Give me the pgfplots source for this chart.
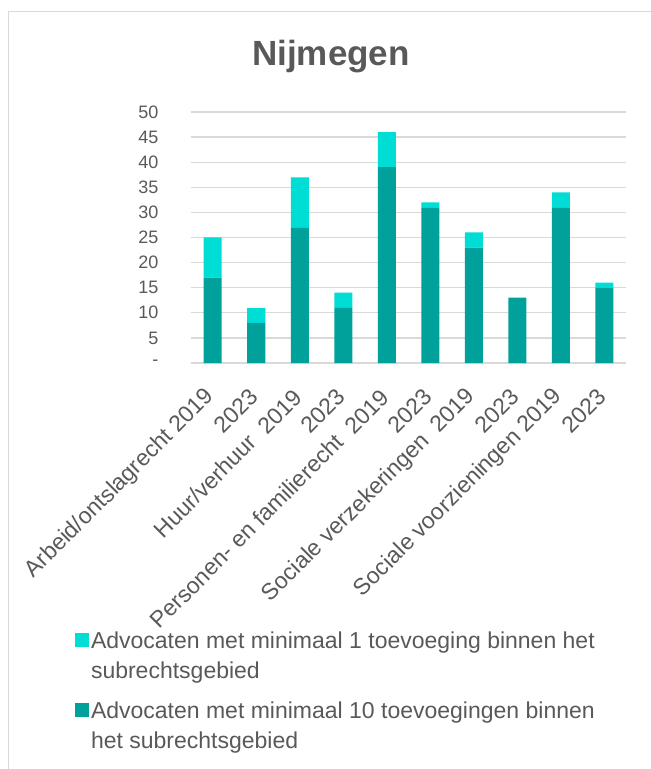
\documentclass[border=0pt]{standalone}
\usepackage{pgfplots}
\pgfplotsset{compat=1.18}
\usepackage{fontspec}
\setmainfont{Liberation Sans}
\definecolor{darkteal}{HTML}{00A19A}
\definecolor{lightteal}{HTML}{00DDD5}
\definecolor{txt}{HTML}{595959}
\definecolor{gridc}{HTML}{D9D9D9}
\begin{document}
\begin{tikzpicture}[x=1pt,y=1pt]
\useasboundingbox (0,0) rectangle (651,769);
\draw[gridc, line width=1pt] (8,0) -- (8,757) -- (651,757);
\node[font=\fontsize{35}{40}\selectfont\bfseries, text=txt] at (331,712) {Nijmegen};
\begin{axis}[
  at={(191pt,406pt)}, anchor=south west,
  scale only axis, width=435pt, height=251pt,
  xmin=-0.5, xmax=9.5, ymin=0, ymax=50,
  ybar stacked, bar width=18pt,
  axis x line*=bottom, axis y line*=left,
  y axis line style={draw=none},
  x axis line style={gridc, line width=1.2pt, -},
  major tick length=0pt,
  ymajorgrids, grid style={gridc, line width=1.2pt},
  ytick={0,5,10,15,20,25,30,35,40,45,50},
  yticklabels={-,5,10,15,20,25,30,35,40,45,50},
  yticklabel style={font=\fontsize{18}{20}\selectfont, text=txt, xshift=-29pt},
  xtick={0,1,2,3,4,5,6,7,8,9},
  xticklabels={Arbeid/ontslagrecht 2019, 2023, Huur/verhuur~ 2019, 2023, Personen- en familierecht~ 2019, 2023, Sociale verzekeringen~ 2019, 2023, Sociale voorzieningen 2019, 2023},
  xticklabel style={yshift=-30pt, xshift=-2pt, rotate=45, anchor=east, inner sep=0pt, font=\fontsize{23}{26}\selectfont, text=txt},
  clip=false,
  reverse legend,
  legend style={at={(-0.274,-1.055)}, anchor=north west, draw=none, fill=none,
    font=\fontsize{23}{29.5}\selectfont, text=txt, row sep=48pt},
  legend cell align=left,
]
\addplot[fill=darkteal, draw=none,
  legend image code/.code={\fill[darkteal] (-4pt,-6pt) rectangle (10pt,8pt);}]
  coordinates {(0,17) (1,8) (2,27) (3,11) (4,39) (5,31) (6,23) (7,13) (8,31) (9,15)};
\addlegendentry{\parbox[t]{560pt}{Advocaten met minimaal 10 toevoegingen binnen\\het subrechtsgebied}}
\addplot[fill=lightteal, draw=none,
  legend image code/.code={\fill[lightteal] (-4pt,-6pt) rectangle (10pt,8pt);}]
  coordinates {(0,8) (1,3) (2,10) (3,3) (4,7) (5,1) (6,3) (7,0) (8,3) (9,1)};
\addlegendentry{\parbox[t]{560pt}{Advocaten met minimaal 1 toevoeging binnen het\\subrechtsgebied}}
\end{axis}
\end{tikzpicture}
\end{document}
